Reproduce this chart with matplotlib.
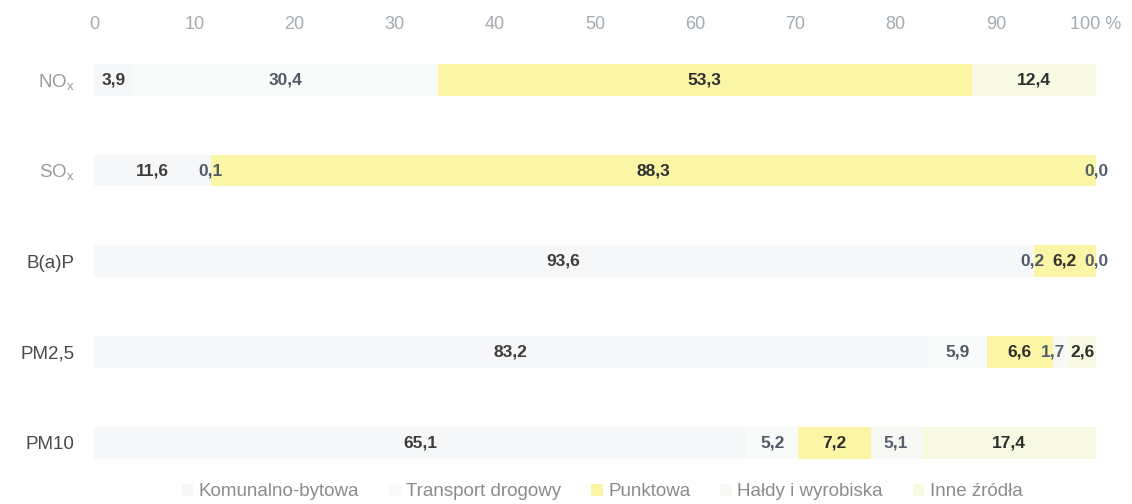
import numpy as np
import matplotlib
matplotlib.use('Agg')
import matplotlib.pyplot as plt
from matplotlib.patches import Patch

plt.rcParams['font.family'] = ['Liberation Sans', 'DejaVu Sans']
plt.rcParams['mathtext.fontset'] = 'custom'
plt.rcParams['mathtext.rm'] = 'Liberation Sans'

# Udział źródeł w emisji (%)
pollutants = ['NO$_\\mathregular{x}$', 'SO$_\\mathregular{x}$', 'B(a)P', 'PM2,5', 'PM10']
sources = ['Komunalno-bytowa', 'Transport drogowy', 'Punktowa',
           'Hałdy i wyrobiska', 'Inne źródła']

komunalno = [3.9, 11.6, 93.6, 83.2, 65.1]
transport = [30.4, 0.1, 0.2, 5.9, 5.2]
punktowa = [53.3, 88.3, 6.2, 6.6, 7.2]
haldy = [np.nan, 0.0, 0.0, 1.7, 5.1]
inne = [12.4, np.nan, np.nan, 2.6, 17.4]

ticks = [0, 10, 20, 30, 40, 50, 60, 70, 80, 90, 100]
tick_labels = ['0', '10', '20', '30', '40', '50', '60', '70', '80', '90', '100 %']

colors = ['#f5f7f8', '#f9fafa', '#fbf6a6', '#f8f8f5', '#f8f9e2']
label_colors = ['#3c3c3c', '#4f5a66', '#2f2f2f', '#55606c', '#2f2f2f']
cat_colors = ['#9a9a9a', '#9a9a9a', '#4a4a4a', '#4a4a4a', '#4a4a4a']

fig = plt.figure(figsize=(11.32, 5.04), dpi=100)
ax = fig.add_axes([94 / 1132, 1 - 488 / 504, (1096 - 94) / 1132, (488 - 34.6) / 504])

data = np.array([komunalno, transport, punktowa, haldy, inne])
widths = np.nan_to_num(data)
y = np.arange(len(pollutants))
left = np.zeros(len(pollutants))

centers = np.zeros_like(widths)
for k in range(len(sources)):
    ax.barh(y, widths[k], left=left, height=0.35, color=colors[k],
            edgecolor='none')
    centers[k] = left + widths[k] / 2
    left = left + widths[k]

# wartości
for j in range(len(pollutants)):
    idx = [k for k in range(len(sources)) if not np.isnan(data[k, j])]
    pos = {k: centers[k, j] for k in idx}
    for a, b in zip(idx[-2::-1], idx[:0:-1]):
        if pos[b] - pos[a] < 3.0:
            pos[a] = pos[b] - 3.0
    for k in idx:
        txt = ('%.1f' % data[k, j]).replace('.', ',')
        ax.text(pos[k], y[j], txt, ha='center', va='center', fontsize=12.5,
                fontweight='bold', color=label_colors[k])

ax.set_xlim(0, 100)
ax.set_ylim(4.5, -0.5)
ax.xaxis.tick_top()
ax.set_xticks(ticks)
ax.set_xticklabels(tick_labels)
ax.tick_params(axis='x', length=0, pad=1, labelsize=13, labelcolor='#a3abb1')
ax.set_yticks(y)
ax.set_yticklabels(pollutants)
ax.tick_params(axis='y', length=0, pad=14, labelsize=13.5)
for lab, c in zip(ax.get_yticklabels(), cat_colors):
    lab.set_color(c)
for s in ax.spines.values():
    s.set_visible(False)

handles = [Patch(facecolor=c, edgecolor='none') for c in colors]
fig.legend(handles, sources, loc='center', bbox_to_anchor=(0.532, 1 - 492 / 504),
           ncol=5, frameon=False, fontsize=13.5, handlelength=0.6,
           handleheight=0.6, handletextpad=0.3, columnspacing=1.6,
           labelcolor='#8c8c8c', borderpad=0)

fig.savefig('out.png', dpi=100)
